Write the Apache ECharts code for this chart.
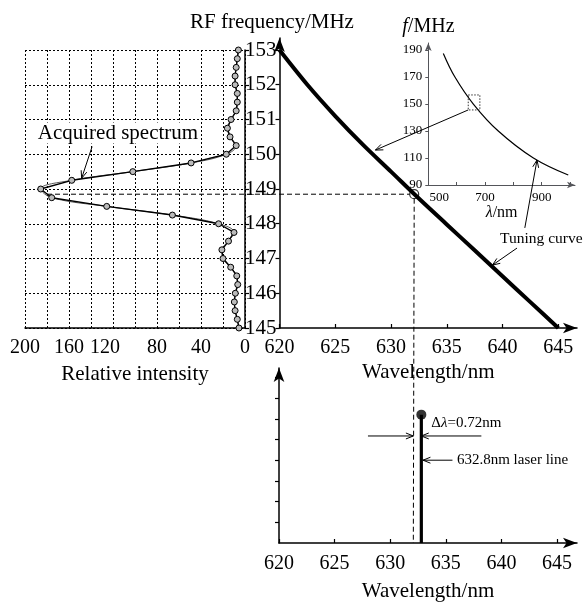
<!DOCTYPE html>
<html>
<head>
<meta charset="utf-8">
<script src="https://cdn.jsdelivr.net/npm/echarts@6/dist/echarts.min.js"></script>
<style>
  html, body { margin: 0; padding: 0; background: #fff; }
  #c { width: 586px; height: 603px; }
</style>
</head>
<body>
<div id="c"></div>
<script>
// Acquired spectrum: RF frequency steps (MHz) and relative intensity
const specFreq = [153, 152.75, 152.5, 152.25, 152, 151.75, 151.5, 151.25, 151, 150.75, 150.5,
  150.25, 150, 149.75, 149.5, 149.25, 149, 148.75, 148.5, 148.25, 148, 147.75, 147.5,
  147.25, 147, 146.75, 146.5, 146.25, 146, 145.75, 145.5, 145.25, 145];
const specIntensity = [6, 7, 8, 9, 9, 7, 7, 8, 12.7, 16, 13.6,
  8, 17, 49, 102, 157.5, 185.7, 175.7, 125.7, 66, 24, 10, 15,
  21, 20, 13, 7.5, 6.6, 8.8, 9.7, 9, 7, 5.5];

// Tuning curve around the He-Ne line: wavelength (nm) vs RF frequency (MHz)
const tuneWl = [620, 622.5, 625, 627.5, 630, 632.5, 635, 637.5, 640, 642.5, 645];
const tuneFreq = [153, 152.0, 151.1, 150.27, 149.5, 148.725, 147.98, 147.235, 146.49, 145.745, 145.0];

// Full tuning curve (inset)
const wideWl = [553, 594, 659, 747, 871, 994];
const wideFreq = [187.5, 170, 150, 130, 110, 97.4];

// Tick labels
const freqTicks = [145, 146, 147, 148, 149, 150, 151, 152, 153];
const wlTicks = [620, 625, 630, 635, 640, 645];
const intensityTicks = [0, 40, 80, 120, 160, 200];
const insetFreqTicks = [90, 110, 130, 150, 170, 190];
const insetWlTicks = [500, 700, 900];

// Measured quantities
const laserWl = 632.8;
const deltaWl = 0.72;
const peakFreq = 148.85;
const peakIntensity = 180;
const laserHeight = 6.2;

const FONT = '"Liberation Serif", "Times New Roman", serif';
const BLACK = '#000';

const chart = echarts.init(document.getElementById('c'), null, { renderer: 'canvas' });

const baseAxis = {
  axisLine: { lineStyle: { color: BLACK, width: 1.5 } },
  axisTick: { lineStyle: { color: BLACK, width: 1.2 } },
  axisLabel: { color: BLACK, fontFamily: FONT, fontSize: 20 },
  splitLine: { show: false }
};
function axis(extra) {
  const a = JSON.parse(JSON.stringify(baseAxis));
  for (const k in extra) {
    if (typeof extra[k] === 'object' && !Array.isArray(extra[k]) && a[k]) {
      Object.assign(a[k], extra[k]);
    } else a[k] = extra[k];
  }
  return a;
}
const dotted = { show: true, lineStyle: { color: BLACK, type: [2, 2], width: 1 } };

const option = {
  backgroundColor: '#fff',
  animation: false,
  grid: [
    { left: 25, top: 50, width: 220, height: 278 },            // spectrum
    { left: 279.5, top: 38, width: 297.5, height: 290 },        // tuning curve
    { left: 279, top: 368, width: 298, height: 175 },           // laser line
    { left: 428.3, top: 43, width: 146.7, height: 142 }         // inset
  ],
  xAxis: [
    axis({
      gridIndex: 0, type: 'value', inverse: true, min: 0, max: 200, interval: 20,
      axisTick: { show: false },
      axisLabel: {
        margin: 10, customValues: intensityTicks,
        formatter: v => v === 120 ? '{s|120}' : (intensityTicks.includes(v) ? String(v) : ''),
        rich: { s: { fontFamily: FONT, fontSize: 20, color: BLACK, padding: [0, 16, 0, 0] } }
      },
      splitLine: dotted,
      name: 'Relative intensity', nameLocation: 'middle', nameGap: 36,
      nameTextStyle: { color: BLACK, fontFamily: FONT, fontSize: 21 }
    }),
    axis({
      gridIndex: 1, type: 'value', min: 620, max: 646.68, interval: 5,
      axisLine: { symbol: ['none', 'arrow'], symbolSize: [8, 14] },
      axisTick: { inside: true, length: 4, customValues: wlTicks },
      axisLabel: { margin: 10, customValues: wlTicks, formatter: v => wlTicks.includes(v) ? String(v) : '' },
      name: 'Wavelength/nm', nameLocation: 'middle', nameGap: 34,
      nameTextStyle: { color: BLACK, fontFamily: FONT, fontSize: 21 }
    }),
    axis({
      gridIndex: 2, type: 'value', min: 620, max: 646.8, interval: 5,
      axisLine: { symbol: ['none', 'arrow'], symbolSize: [8, 14] },
      axisTick: { inside: true, length: 4, customValues: wlTicks },
      axisLabel: { margin: 11, customValues: wlTicks, formatter: v => wlTicks.includes(v) ? String(v) : '' },
      name: 'Wavelength/nm', nameLocation: 'middle', nameGap: 38,
      nameTextStyle: { color: BLACK, fontFamily: FONT, fontSize: 21 }
    }),
    axis({
      gridIndex: 3, type: 'value', min: 500, max: 1017.8, interval: 100,
      axisLine: { symbol: ['none', 'arrow'], symbolSize: [5, 8], lineStyle: { width: 1 } },
      axisTick: { inside: true, length: 3, customValues: [600, 700, 800, 900, 1000], lineStyle: { width: 1 } },
      axisLabel: {
        margin: 6, fontSize: 13, customValues: insetWlTicks,
        formatter: v => v === 500 ? '{s|500}' : (insetWlTicks.includes(v) ? String(v) : ''),
        rich: { s: { fontFamily: FONT, fontSize: 13, color: BLACK, padding: [0, 0, 0, 22] } }
      },
      name: '{i|λ}/nm', nameLocation: 'middle', nameGap: 19,
      nameTextStyle: { color: BLACK, fontFamily: FONT, fontSize: 16,
        rich: { i: { fontStyle: 'italic', fontFamily: FONT, fontSize: 16, color: BLACK } } }
    })
  ],
  yAxis: [
    axis({
      gridIndex: 0, type: 'value', position: 'right', min: 145, max: 153, interval: 1,
      axisTick: { length: 4 },
      axisLabel: { show: false },
      splitLine: dotted
    }),
    axis({
      gridIndex: 1, type: 'value', min: 145, max: 153.345, interval: 1,
      axisLine: { symbol: ['none', 'arrow'], symbolSize: [8, 14] },
      axisTick: { length: 4, customValues: freqTicks },
      axisLabel: { margin: 3, fontSize: 21, customValues: freqTicks, formatter: v => freqTicks.includes(v) ? String(v) : '' }
    }),
    axis({
      gridIndex: 2, type: 'value', min: 0, max: 8.454, interval: 1,
      axisLine: { symbol: ['none', 'arrow'], symbolSize: [8, 14] },
      axisTick: { length: 4, customValues: [1, 2, 3, 4, 5, 6, 7, 8] },
      axisLabel: { show: false }
    }),
    axis({
      gridIndex: 3, type: 'value', min: 90, max: 195.2, interval: 10,
      axisLine: { symbol: ['none', 'arrow'], symbolSize: [5, 8], lineStyle: { width: 1 } },
      axisTick: { length: 3, customValues: insetFreqTicks, lineStyle: { width: 1 } },
      axisLabel: { margin: 6, fontSize: 13, customValues: insetFreqTicks, formatter: v => insetFreqTicks.includes(v) ? String(v) : '' },
      name: '{i|f}/MHz', nameLocation: 'end', nameGap: 6,
      nameTextStyle: { color: BLACK, fontFamily: FONT, fontSize: 20, align: 'left', padding: [0, 0, 0, -26],
        rich: { i: { fontStyle: 'italic', fontFamily: FONT, fontSize: 20, color: BLACK } } }
    })
  ],
  series: [
    {
      name: 'Acquired spectrum (smoothed)', type: 'line', xAxisIndex: 0, yAxisIndex: 0,
      data: specFreq.map((f, i) => [specIntensity[i], f]),
      smooth: 0.4, showSymbol: false,
      lineStyle: { color: '#444', width: 0.9 }, z: 3
    },
    {
      name: 'Acquired spectrum', type: 'line', xAxisIndex: 0, yAxisIndex: 0,
      data: specFreq.map((f, i) => [specIntensity[i], f]),
      symbol: 'circle', symbolSize: 6,
      itemStyle: { color: '#bbb', borderColor: BLACK, borderWidth: 1 },
      lineStyle: { color: BLACK, width: 1.4 }, z: 4
    },
    {
      name: 'Tuning curve', type: 'line', xAxisIndex: 1, yAxisIndex: 1,
      data: tuneWl.map((w, i) => [w, tuneFreq[i]]),
      smooth: 0.3, showSymbol: false,
      lineStyle: { color: BLACK, width: 4 }, z: 4
    },
    {
      name: 'Operating point', type: 'scatter', xAxisIndex: 1, yAxisIndex: 1,
      data: [[laserWl - deltaWl, peakFreq]],
      symbol: 'circle', symbolSize: 9,
      itemStyle: { color: 'rgba(255,255,255,0)', borderColor: BLACK, borderWidth: 1.2 }, z: 6
    },
    {
      name: 'Tuning curve (full)', type: 'line', xAxisIndex: 3, yAxisIndex: 3,
      data: wideWl.map((w, i) => [w, wideFreq[i]]),
      smooth: 0.4, showSymbol: false,
      lineStyle: { color: BLACK, width: 1.2 }
    },
    {
      name: 'Laser line', type: 'line', xAxisIndex: 2, yAxisIndex: 2,
      data: [[laserWl, 0], [laserWl, laserHeight]],
      showSymbol: false, lineStyle: { color: BLACK, width: 3.2 }
    },
    {
      name: 'Laser line top', type: 'scatter', xAxisIndex: 2, yAxisIndex: 2,
      data: [[laserWl, laserHeight]],
      symbol: 'circle', symbolSize: 10, itemStyle: { color: BLACK }
    }
  ]
};
chart.setOption(option);

// ---- annotations placed through the axes' own coordinate systems ----
const P = (g, x, y) => chart.convertToPixel({ gridIndex: g }, [x, y]);

function line(a, b, dash, w) {
  return {
    type: 'line', z: 10,
    shape: { x1: a[0], y1: a[1], x2: b[0], y2: b[1] },
    style: { stroke: BLACK, lineWidth: w || 1, lineDash: dash || null }
  };
}
function arrow(a, b, w) {
  const ang = Math.atan2(b[1] - a[1], b[0] - a[0]);
  const L = 8, s = 0.38;
  const p1 = [b[0] - L * Math.cos(ang - s), b[1] - L * Math.sin(ang - s)];
  const p2 = [b[0] - L * Math.cos(ang + s), b[1] - L * Math.sin(ang + s)];
  return [
    line(a, b, null, w || 1),
    { type: 'polyline', z: 10, shape: { points: [p1, b, p2] }, style: { stroke: BLACK, lineWidth: w || 1, fill: null } }
  ];
}
function text(pt, str, size, align, extra) {
  return Object.assign({
    type: 'text', z: 11, x: pt[0], y: pt[1],
    style: Object.assign({ text: str, font: size + 'px ' + FONT, fill: BLACK, align: align || 'left', verticalAlign: 'middle' }, extra || {})
  });
}

const dashWl = laserWl - deltaWl;
const opPt = P(1, dashWl, peakFreq);
const yArr = 5.17;
const sqA = P(3, 641, 156.7), sqB = P(3, 682, 145.6);

const g = [];
// guide lines from the spectrum peak to the tuning curve and down to the laser line plot
g.push(line(P(0, peakIntensity, peakFreq), [opPt[0] - 4.5, opPt[1]], [5, 3], 1));
g.push(line([opPt[0], opPt[1] + 4.5], P(2, dashWl, 0), [5, 3], 1));
// delta-lambda markers
g.push(...arrow(P(2, 628.0, yArr), P(2, dashWl, yArr)));
g.push(...arrow(P(2, 638.2, yArr), P(2, laserWl, yArr)));
g.push(text(P(2, 633.7, 5.8), '{n|Δ}{i|λ}{n|=0.72nm}', 15, 'left', {
  rich: { n: { font: '15px ' + FONT, fill: BLACK }, i: { font: 'italic 15px ' + FONT, fill: BLACK } }
}));
g.push(...arrow(P(2, 635.6, 4.0), P(2, 632.95, 4.0)));
g.push(text(P(2, 636.0, 4.0), '632.8nm laser line', 15, 'left'));
// spectrum label
g.push(...arrow(P(0, 139, 150.22), P(0, 148.5, 149.31)));
g.push(text(P(0, 115.5, 150.61), 'Acquired spectrum', 21, 'center', { backgroundColor: '#fff', padding: [0, 2] }));
// inset zoom box and link
g.push({
  type: 'rect', z: 10,
  shape: { x: sqA[0], y: sqA[1], width: sqB[0] - sqA[0], height: sqB[1] - sqA[1] },
  style: { stroke: '#333', lineWidth: 1, lineDash: [1.5, 1.5], fill: null }
});
g.push(...arrow([sqA[0], sqB[1]], P(1, 628.6, 150.12)));
// tuning curve label
g.push(text(P(1, 639.78, 147.56), 'Tuning curve', 15.5, 'left'));
g.push(...arrow(P(1, 641.3, 147.3), P(1, 639.1, 146.81)));
g.push(...arrow(P(1, 642.0, 147.88), P(3, 883.7, 108.5)));
// main frequency axis title
g.push(text([272, 22], 'RF frequency/MHz', 21, 'center'));

chart.setOption({ graphic: { elements: g } });
</script>
</body>
</html>
